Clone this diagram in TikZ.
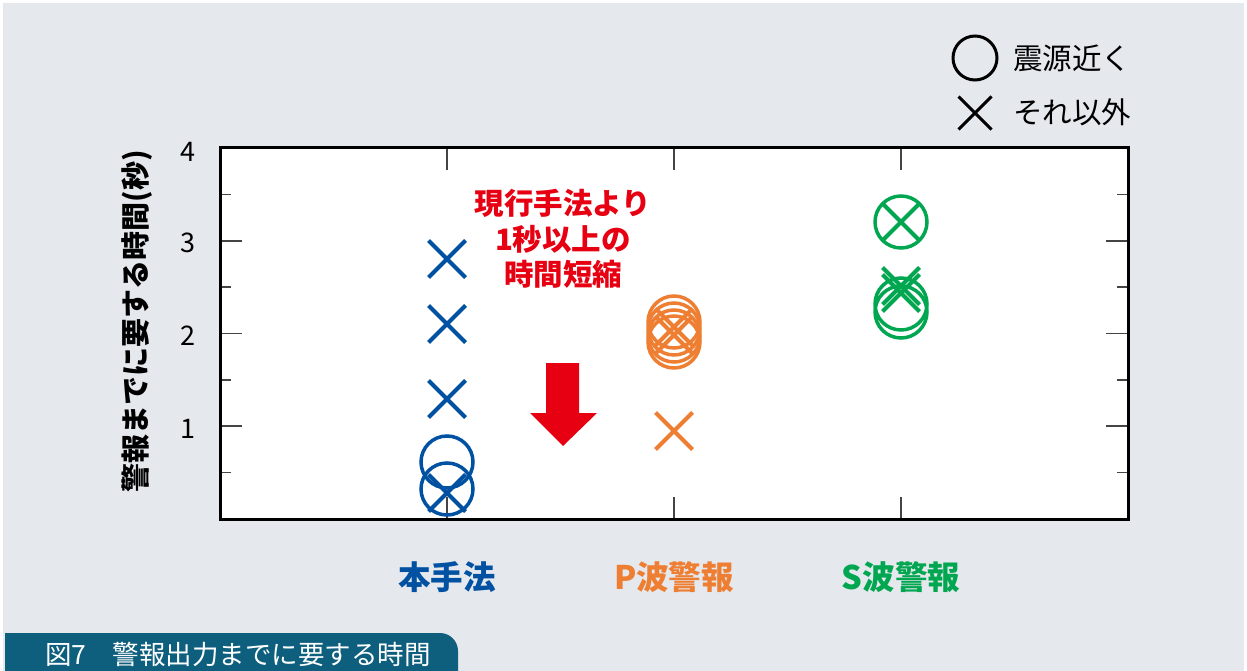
\documentclass[tikz,border=0pt]{standalone}
\usepackage{fontspec}
\setmainfont{Noto Sans CJK JP}
\usetikzlibrary{shapes.misc}
\definecolor{bg}{HTML}{E5E8ED}
\definecolor{capc}{HTML}{0E5F7E}
\definecolor{cblue}{HTML}{0051A2}
\definecolor{corange}{HTML}{EE7F32}
\definecolor{cgreen}{HTML}{00A650}
\definecolor{cred}{HTML}{E60012}
\definecolor{tickc}{HTML}{444444}
\begin{document}
\begin{tikzpicture}[x=1pt,y=-1pt,
  ocirc/.style={circle,draw,line width=3.5pt,minimum size=52pt,inner sep=0pt},
  xmark/.style={cross out,draw,line width=4pt,minimum size=33pt,inner sep=0pt},
  ticklab/.style={font=\fontsize{27}{27}\selectfont,inner sep=0pt},
  catlab/.style={font=\fontsize{32.5}{32.5}\selectfont\bfseries,inner sep=0pt},
  legtext/.style={font=\fontsize{29.5}{29.5}\selectfont,anchor=west,inner sep=0pt},
  tickline/.style={draw=tickc,line width=1.6pt}
]
\useasboundingbox (0,0) rectangle (1247,671);
\fill[white] (0,0) rectangle (1247,671);
\fill[bg] (3,3) rectangle (1244,671);

% plot frame
\fill[white] (220,148) rectangle (1128,519);
% ticks
\foreach \v in {1,2,3}{
  \draw[tickline] (220,{519-\v*92.75}) -- (242,{519-\v*92.75});
  \draw[tickline] (1128,{519-\v*92.75}) -- (1106,{519-\v*92.75});
}
\foreach \v in {0.5,1.5,2.5,3.5}{
  \draw[tickline] (220,{519-\v*92.75}) -- (231,{519-\v*92.75});
  \draw[tickline] (1128,{519-\v*92.75}) -- (1117,{519-\v*92.75});
}
\foreach \xx in {447,674,901}{
  \draw[tickline] (\xx,519) -- (\xx,497);
  \draw[tickline] (\xx,148) -- (\xx,170);
}
\draw[line width=3pt] (220,148) rectangle (1128,519);

% tick labels
\node[ticklab] (t4) at (188,152) {4};
\node[ticklab] (t3) at (188,243) {3};
\node[ticklab] (t2) at (188,336) {2};
\node[ticklab] (t1) at (188,429) {1};

% y label
\node[rotate=90,font=\fontsize{29}{29}\selectfont\bfseries,inner sep=0pt] (ylab) at (137,321) {警報までに要する時間(秒)};

% blue data
\node[ocirc,draw=cblue] (b1) at (447,462) {};
\node[ocirc,draw=cblue] (b2) at (447,489) {};
\node[xmark,draw=cblue] (bx1) at (447,259) {};
\node[xmark,draw=cblue] (bx2) at (447,324) {};
\node[xmark,draw=cblue] (bx3) at (447,399) {};
\node[xmark,draw=cblue] (bx4) at (447,493) {};

% orange data
\node[ocirc,draw=corange] (o1) at (674,322) {};
\node[ocirc,draw=corange] (o2) at (674,329) {};
\node[ocirc,draw=corange] (o3) at (674,336) {};
\node[ocirc,draw=corange] (o4) at (674,342) {};
\node[xmark,draw=corange] (ox1) at (674,327) {};
\node[xmark,draw=corange] (ox2) at (674,335) {};
\node[xmark,draw=corange] (ox3) at (674,431) {};

% green data
\node[ocirc,draw=cgreen] (g1) at (901,222) {};
\node[xmark,draw=cgreen] (gx1) at (901,222) {};
\node[ocirc,draw=cgreen] (g2) at (901,304) {};
\node[ocirc,draw=cgreen] (g3) at (901,312) {};
\node[xmark,draw=cgreen] (gx2) at (901,286) {};
\node[xmark,draw=cgreen] (gx3) at (901,293) {};

% red annotation
\node[text=cred,font=\fontsize{29.5}{35.5}\selectfont\bfseries,align=center,inner sep=0pt] (note) at (563,239) {現行手法より\\1秒以上の\\時間短縮};
\fill[cred] (546,363) -- (579,363) -- (579,413) -- (597,413) -- (563,446) -- (530,413) -- (546,413) -- cycle;

% category labels
\node[catlab,text=cblue] (c1) at (447,577) {本手法};
\node[catlab,text=corange] (c2) at (674,577) {P波警報};
\node[catlab,text=cgreen] (c3) at (901,577) {S波警報};

% legend
\node[circle,draw,line width=3pt,minimum size=44pt,inner sep=0pt] (lc) at (975,58) {};
\node[cross out,draw,line width=3pt,minimum size=30pt,inner sep=0pt] (lx) at (975,113) {};
\node[legtext] (lct) at (1013,58) {震源近く};
\node[legtext] (lxt) at (1013,112) {それ以外};

% caption bar
\fill[capc] (5,671) -- (5,633) -- (440,633) arc[start angle=-90,end angle=0,radius=18] -- (458,671) -- cycle;
\node[text=white,font=\fontsize{26.5}{26.5}\selectfont,anchor=west,inner sep=0pt] (cap) at (45,654) {図7　警報出力までに要する時間};
\end{tikzpicture}
\end{document}
